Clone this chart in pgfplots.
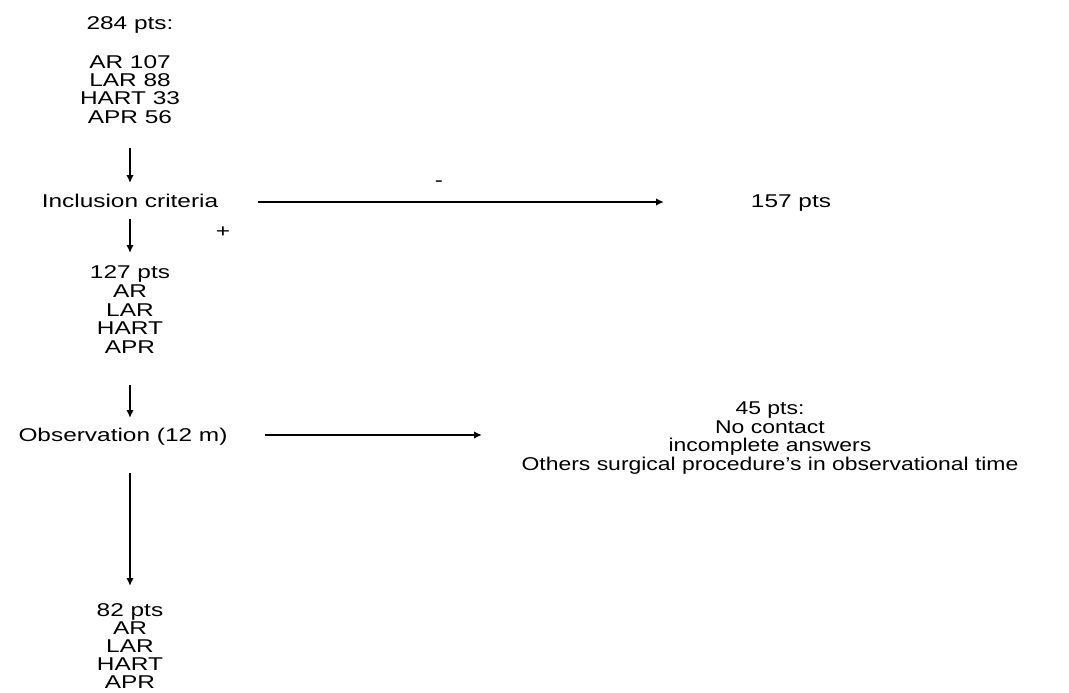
\documentclass[border=0pt]{standalone}
\usepackage{pgfplots}
\pgfplotsset{compat=1.18}
\usepackage{fontspec}
\setmainfont{Liberation Sans}[FakeStretch=1.32]
\newfontfamily\rfont{Liberation Sans}[FakeStretch=1.24]
\usetikzlibrary{arrows.meta}
\tikzset{
  txt/.style={font=\fontsize{18.5}{20}\selectfont, inner sep=0pt, anchor=base, yshift=-6.6pt},
  rtxt/.style={txt, font=\fontsize{18.5}{20}\selectfont\rfont},
  arr/.style={black, line width=1.8pt, no markers, -{Latex[length=8pt,width=7.5pt]}}
}
\begin{document}
\begin{tikzpicture}
\begin{axis}[
    width=1069pt, height=693pt, scale only axis,
    xmin=0, xmax=1069, ymin=0, ymax=693, y dir=reverse,
    hide axis, clip=false
]
\path (axis cs:0,0) rectangle (axis cs:1069,693);
% arrows
\addplot[arr] coordinates {(130,148) (130,183)};
\addplot[arr] coordinates {(130,219) (130,253)};
\addplot[arr] coordinates {(130,385) (130,418)};
\addplot[arr] coordinates {(130,473) (130,586)};
\addplot[arr] coordinates {(258,202) (664,202)};
\addplot[arr] coordinates {(265,435) (482,435)};
% text
\node[txt] at (axis cs:130,23) {284 pts:};
\node[txt] at (axis cs:130,62) {AR 107};
\node[txt] at (axis cs:130,80) {LAR 88};
\node[txt] at (axis cs:130,98) {HART 33};
\node[txt] at (axis cs:130,117) {APR 56};
\node[txt] at (axis cs:130,201) {Inclusion criteria};
\node[txt] at (axis cs:439,180) {-};
\node[txt] at (axis cs:223,231) {+};
\node[txt] at (axis cs:791,201) {157 pts};
\node[txt] at (axis cs:130,272) {127 pts};
\node[txt] at (axis cs:130,291) {AR};
\node[txt] at (axis cs:130,310) {LAR};
\node[txt] at (axis cs:130,328) {HART};
\node[txt] at (axis cs:130,347) {APR};
\node[txt] at (axis cs:123,435) {Observation (12 m)};
\node[rtxt] at (axis cs:770,408) {45 pts:};
\node[rtxt] at (axis cs:770,427) {No contact};
\node[rtxt] at (axis cs:770,445) {incomplete answers};
\node[rtxt] at (axis cs:770,464) {Others surgical procedure’s in observational time};
\node[txt] at (axis cs:130,610) {82 pts};
\node[txt] at (axis cs:130,628) {AR};
\node[txt] at (axis cs:130,646) {LAR};
\node[txt] at (axis cs:130,664) {HART};
\node[txt] at (axis cs:130,682) {APR};
\end{axis}
\end{tikzpicture}
\end{document}
